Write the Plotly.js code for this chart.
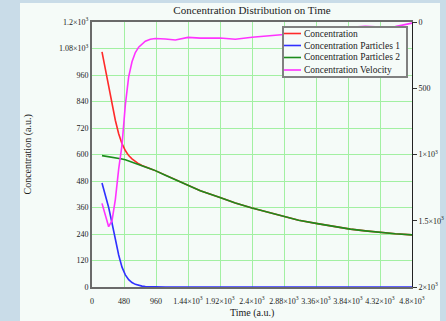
<!DOCTYPE html>
<html>
<head>
<meta charset="utf-8">
<script src="https://cdn.plot.ly/plotly-3.0.1.min.js"></script>
<style>
  html, body { margin: 0; padding: 0; width: 446px; height: 321px; overflow: hidden; background: #c9dce8; }
  #panel { position: absolute; left: 20px; top: 3px; width: 420px; height: 318px; background: #f5fbf8; }
  #chart { position: absolute; left: 0; top: 0; width: 446px; height: 321px; }
</style>
</head>
<body>
<div id="panel"></div>
<div id="chart"></div>
<script>
// Time (a.u.)
const time = [150, 200, 250, 300, 350, 400, 450, 500, 550, 600, 650, 700, 750, 800, 875, 950, 1100, 1250, 1440, 1625, 1920, 2150, 2400, 2650, 2880, 3100, 3380, 3600, 3875, 4100, 4325, 4550, 4800];
// Concentration (left axis)
const concentration = [1065, 985, 906, 830, 755, 694, 649, 618, 595, 580, 567, 558, 550, 543, 535, 527, 506, 485, 462, 436, 405, 380, 358, 337, 317, 302, 287, 275, 262, 254, 246, 241, 236];
// Concentration Particles 1 (left axis)
const particles1 = [471, 420, 360, 290, 215, 145, 90, 55, 33, 20, 12, 7, 4, 2, 1, 0, 0, 0, 0, 0, 0, 0, 0, 0, 0, 0, 0, 0, 0, 0, 0, 0, 0];
// Concentration Particles 2 (left axis)
const particles2 = [595, 593, 590, 588, 585, 583, 580, 576, 571, 566, 560, 555, 549, 543, 535, 527, 506, 485, 462, 436, 405, 380, 358, 337, 317, 302, 287, 275, 262, 254, 246, 241, 236];
// Concentration Velocity (right axis, reversed)
const velocity = [1369, 1460, 1545, 1500, 1340, 1110, 930, 625, 414, 300, 230, 190, 165, 145, 130, 124, 128, 136, 116, 122, 121, 130, 115, 105, 92, 85, 83, 60, 40, 32, 38, 35, 8];

const seriesNames = ["Concentration", "Concentration Particles 1", "Concentration Particles 2", "Concentration Velocity"];
const seriesColors = ["#ff2a2a", "#3030ff", "#1c8c1c", "#ff33ff"];

const xTickVals = [0, 480, 960, 1440, 1920, 2400, 2880, 3360, 3840, 4320, 4800];
const xTickText = ["0", "480", "960", "1.44×10<sup>3</sup>", "1.92×10<sup>3</sup>", "2.4×10<sup>3</sup>", "2.88×10<sup>3</sup>", "3.36×10<sup>3</sup>", "3.84×10<sup>3</sup>", "4.32×10<sup>3</sup>", "4.8×10<sup>3</sup>"];
const yTickVals = [0, 120, 240, 360, 480, 600, 720, 840, 960, 1080, 1200];
const yTickText = ["0", "120", "240", "360", "480", "600", "720", "840", "960", "1.08×10<sup>3</sup>", "1.2×10<sup>3</sup>"];
const y2TickVals = [0, 500, 1000, 1500, 2000];
const y2TickText = ["0", "500", "1×10<sup>3</sup>", "1.5×10<sup>3</sup>", "2×10<sup>3</sup>"];

const serif = "Liberation Serif, Times New Roman, serif";

const seriesY = [concentration, particles1, particles2, velocity];
const traces = seriesY.map((ys, i) => ({
  x: time, y: ys, name: seriesNames[i], type: "scatter", mode: "lines",
  yaxis: i === 3 ? "y2" : "y",
  line: { color: seriesColors[i], width: 1.6 }
}));

// compact legend box (plot-area paper coordinates)
const plotL = 92, plotR = 412, plotT = 22, plotB = 287;
const px = v => (v - plotL) / (plotR - plotL);
const py = v => (plotB - v) / (plotB - plotT);
const legLeft = 283, legRight = 407, legTop = 27, legBottom = 77;
const rowY = [33.5, 45.5, 57.5, 70];

const shapes = [
  { type: "rect", xref: "paper", yref: "paper", x0: px(legLeft), x1: px(legRight), y0: py(legBottom), y1: py(legTop),
    fillcolor: "#f5fbf8", line: { color: "#808080", width: 2 }, layer: "above" }
];
const annotations = [
  { text: "Concentration (a.u.)", xref: "paper", yref: "paper", x: px(27), y: 0.5, textangle: -90, showarrow: false, xanchor: "center", yanchor: "middle", font: { family: serif, size: 10, color: "#222" } },
  { text: "Time (a.u.)", xref: "paper", yref: "paper", x: 0.5, y: py(313), showarrow: false, xanchor: "center", yanchor: "middle", font: { family: serif, size: 10, color: "#222" } }
];
seriesNames.forEach((name, i) => {
  shapes.push({ type: "line", xref: "paper", yref: "paper", x0: px(legLeft + 1), x1: px(legLeft + 18), y0: py(rowY[i]), y1: py(rowY[i]),
    line: { color: seriesColors[i], width: 1.6 }, layer: "above" });
  annotations.push({ text: name, xref: "paper", yref: "paper", x: px(legLeft + 19), y: py(rowY[i]), showarrow: false,
    xanchor: "left", yanchor: "middle", font: { family: serif, size: 9.5, color: "#222" } });
});

const layout = {
  width: 446, height: 321,
  margin: { l: plotL, r: 446 - plotR, t: plotT, b: 321 - plotB },
  paper_bgcolor: "rgba(0,0,0,0)",
  plot_bgcolor: "#f5fbf8",
  font: { family: serif, color: "#222", size: 8 },
  title: { text: "Concentration Distribution on Time", font: { family: serif, size: 11, color: "#222" }, x: 0.5, xref: "paper", y: 1 - 10 / 321, yanchor: "middle" },
  showlegend: false,
  xaxis: {
    range: [0, 4800], tickvals: xTickVals, ticktext: xTickText, tickangle: 0,
    showgrid: true, gridcolor: "#a2f0a2", gridwidth: 1, zeroline: false,
    showline: true, linecolor: "#6a6a6a", linewidth: 2, mirror: true,
    ticks: "outside", ticklen: 5, tickcolor: "rgba(0,0,0,0)", tickfont: { family: serif, size: 8, color: "#222" }
  },
  yaxis: {
    range: [0, 1200], tickvals: yTickVals, ticktext: yTickText,
    showgrid: true, gridcolor: "#a2f0a2", gridwidth: 1, zeroline: false,
    showline: true, linecolor: "#6a6a6a", linewidth: 2,
    ticks: "", tickfont: { family: serif, size: 8, color: "#222" }
  },
  yaxis2: {
    overlaying: "y", side: "right", range: [2000, 0], tickvals: y2TickVals, ticktext: y2TickText,
    showgrid: false, zeroline: false, showline: true, linecolor: "#222", linewidth: 1,
    ticks: "outside", ticklen: 4, tickcolor: "#333", tickfont: { family: serif, size: 8, color: "#222" }
  },
  shapes: shapes,
  annotations: annotations
};

Plotly.newPlot("chart", traces, layout, { displayModeBar: false, staticPlot: true });
</script>
</body>
</html>
